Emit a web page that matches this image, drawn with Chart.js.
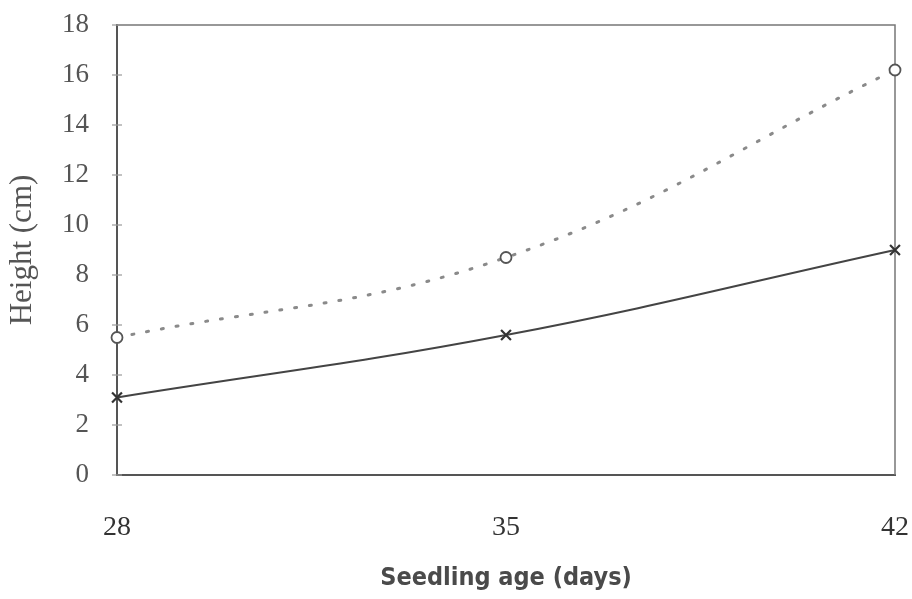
<!DOCTYPE html>
<html>
<head>
<meta charset="utf-8">
<script src="https://cdn.jsdelivr.net/npm/chart.js@4"></script>
<style>
  html, body { margin: 0; padding: 0; background: #fff; }
  #wrap { width: 912px; height: 599px; }
</style>
</head>
<body>
<div id="wrap"><canvas id="myChart" width="912" height="599"></canvas></div>
<script>
const ages = [28, 35, 42];
const heightOpen = [5.5, 8.7, 16.2];
const heightCross = [3.1, 5.6, 9.0];
const yTicks = [0, 2, 4, 6, 8, 10, 12, 14, 16, 18];

const ctx = document.getElementById('myChart');

// frame round the plot plus little tick marks across the y axis
const frame = {
  id: 'frame',
  beforeDatasetsDraw(chart) {
    const c = chart.ctx;
    const a = chart.chartArea;
    const y = chart.scales.y;
    c.save();
    c.strokeStyle = '#777';
    c.lineWidth = 1.5;
    c.beginPath();
    c.moveTo(a.left, a.top);
    c.lineTo(a.right, a.top);
    c.lineTo(a.right, a.bottom);
    c.stroke();
    c.strokeStyle = '#999';
    c.lineWidth = 1.2;
    yTicks.forEach(v => {
      const py = y.getPixelForValue(v);
      c.beginPath();
      c.moveTo(a.left - 5, py);
      c.lineTo(a.left + 5, py);
      c.stroke();
    });
    c.restore();
  }
};

new Chart(ctx, {
  type: 'line',
  data: {
    datasets: [
      {
        data: ages.map((x, i) => ({x: x, y: heightOpen[i]})),
        borderColor: '#8a8a8a',
        borderWidth: 3,
        borderDash: [2, 13],
        borderCapStyle: 'round',
        tension: 0.4,
        clip: false,
        pointStyle: 'circle',
        pointRadius: 5.5,
        pointBackgroundColor: '#fff',
        pointBorderColor: '#555',
        pointBorderWidth: 1.8
      },
      {
        data: ages.map((x, i) => ({x: x, y: heightCross[i]})),
        borderColor: '#444',
        borderWidth: 2,
        tension: 0.4,
        clip: false,
        pointStyle: 'crossRot',
        pointRadius: 7,
        pointBorderColor: '#333',
        pointBorderWidth: 2.2
      }
    ]
  },
  options: {
    responsive: false,
    animation: false,
    layout: { padding: { top: 25, right: 17, left: 0, bottom: 0 } },
    plugins: { legend: { display: false }, tooltip: { enabled: false } },
    scales: {
      x: {
        type: 'linear',
        min: 28,
        max: 42,
        afterBuildTicks: s => { s.ticks = ages.map(v => ({value: v})); },
        afterFit: s => { s.height = 124; s.paddingLeft = 0; s.paddingRight = 0; },
        grid: { display: false },
        border: { color: '#555', width: 2 },
        ticks: {
          padding: 28,
          color: '#333',
          font: { family: 'Liberation Serif', size: 28 }
        },
        title: {
          display: true,
          text: 'Seedling age (days)',
          color: '#4a4a4a',
          padding: { top: 0, bottom: 6 },
          font: { family: "'Liberation Sans Narrow', 'DejaVu Sans Condensed', 'Liberation Sans', sans-serif", size: 25, weight: 'bold' }
        }
      },
      y: {
        min: 0,
        max: 18,
        afterBuildTicks: s => { s.ticks = yTicks.map(v => ({value: v})); },
        afterFit: s => { s.width = 117; s.paddingTop = 0; s.paddingBottom = 0; },
        grid: { display: false },
        border: { color: '#555', width: 2 },
        ticks: {
          padding: 20,
          color: '#555',
          font: { family: 'Liberation Serif', size: 27 }
        },
        title: {
          display: true,
          text: 'Height (cm)',
          color: '#555',
          padding: { top: 4, bottom: 0 },
          font: { family: 'Liberation Serif', size: 31 }
        }
      }
    }
  },
  plugins: [frame]
});
</script>
</body>
</html>
